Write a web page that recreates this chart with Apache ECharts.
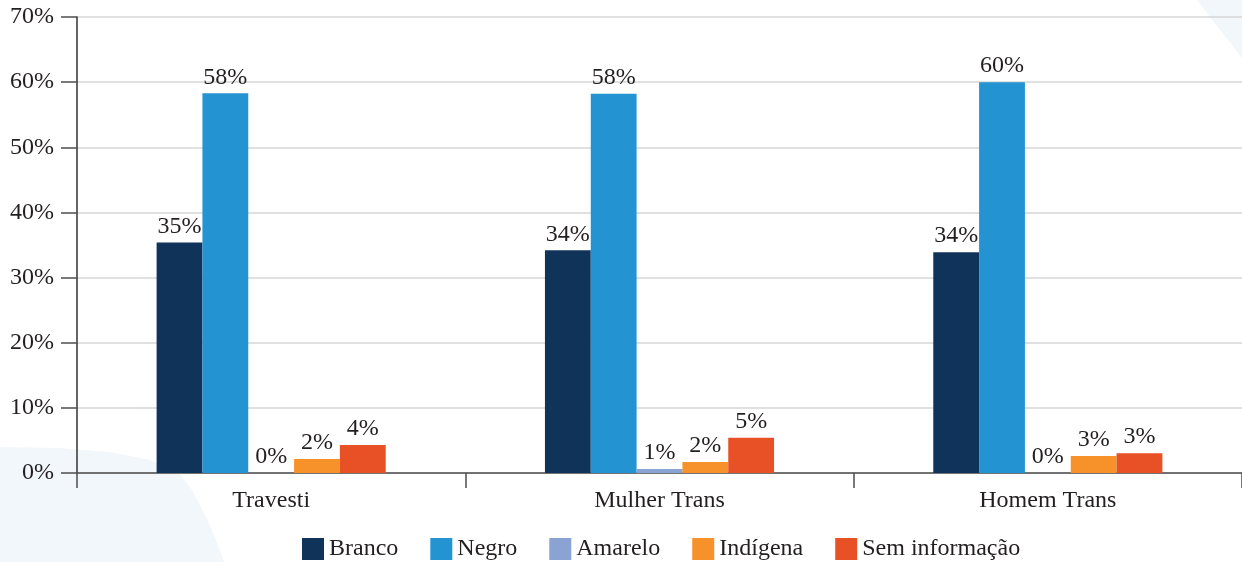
<!DOCTYPE html>
<html>
<head>
<meta charset="utf-8">
<script src="https://cdn.jsdelivr.net/npm/echarts@6/dist/echarts.min.js"></script>
<style>html,body{margin:0;padding:0;background:#fff}#c{width:1242px;height:562px}</style>
</head>
<body>
<div id="c"></div>
<script>
const categories = ['Travesti', 'Mulher Trans', 'Homem Trans'];
const seriesNames = ['Branco', 'Negro', 'Amarelo', 'Indígena', 'Sem informação'];
const branco = [35.4, 34.2, 33.9];
const negro = [58.3, 58.2, 60.0];
const amarelo = [0, 0.6, 0];
const indigena = [2.15, 1.7, 2.6];
const semInfo = [4.3, 5.4, 3.05];
const yTicks = [0, 10, 20, 30, 40, 50, 60, 70];
const colors = ['#10335a', '#2393d2', '#8aa3d3', '#f7922a', '#e85126'];

const font = '"Liberation Serif", "DejaVu Serif", serif';
const fs = 24;
const values = [branco, negro, amarelo, indigena, semInfo];

const chart = echarts.init(document.getElementById('c'), null, {renderer: 'canvas'});
chart.setOption({
  animation: false,
  backgroundColor: '#ffffff',
  textStyle: {fontFamily: font},
  graphic: [
    {type: 'polygon', z: -10, silent: true,
     shape: {points: [[0, 447], [60, 448], [110, 452], [150, 460], [178, 472], [192, 490], [205, 515], [216, 540], [224, 562], [0, 562]]},
     style: {fill: '#f2f7fb'}},
    {type: 'polygon', z: -10, silent: true,
     shape: {points: [[1197, 0], [1242, 0], [1242, 58]]},
     style: {fill: '#f2f7fb'}}
  ],
  grid: {left: 77, top: 17, width: 1168, height: 456, containLabel: false},
  legend: {
    left: 302, top: 537,
    itemWidth: 22, itemHeight: 22, itemGap: 32,
    icon: 'rect',
    padding: 0,
    textStyle: {fontFamily: font, fontSize: fs, color: '#231f20'},
    data: seriesNames
  },
  xAxis: {
    type: 'category',
    data: categories,
    axisLine: {lineStyle: {color: '#4d4d4d', width: 1.5}},
    axisTick: {show: true, length: 15, lineStyle: {color: '#4d4d4d', width: 1.5}},
    axisLabel: {fontFamily: font, fontSize: fs, color: '#231f20', margin: 16}
  },
  yAxis: {
    type: 'value',
    min: yTicks[0], max: yTicks[yTicks.length - 1], interval: 10,
    axisLine: {show: true, lineStyle: {color: '#333', width: 1.5}},
    axisTick: {show: true, length: 16, lineStyle: {color: '#4d4d4d', width: 1.5}},
    axisLabel: {fontFamily: font, fontSize: fs, color: '#231f20', margin: 23,
      formatter: v => v + '%'},
    splitLine: {lineStyle: {color: '#d6d6d6', width: 1.5}}
  },
  series: seriesNames.map((name, i) => ({
    name: name,
    type: 'bar',
    data: values[i],
    barGap: '0%',
    barCategoryGap: '41%',
    itemStyle: {color: colors[i]},
    label: {
      show: true, position: 'top', distance: 4,
      fontFamily: font, fontSize: fs, color: '#231f20',
      formatter: p => Math.round(p.value) + '%'
    }
  }))
});
</script>
</body>
</html>
